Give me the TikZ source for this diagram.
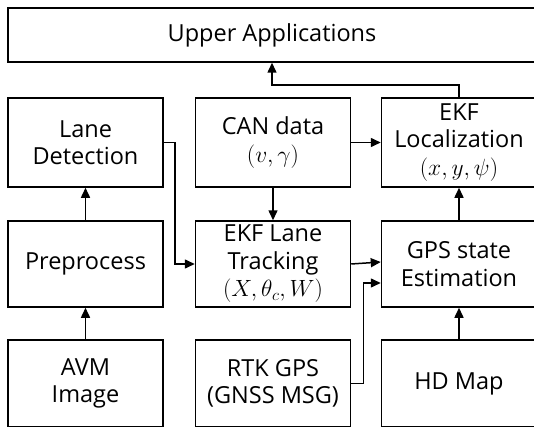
\documentclass[tikz,border=0pt]{standalone}
\usepackage{fix-cm}
\usepackage{fontspec}
\setmainfont{Open Sans}
\usetikzlibrary{arrows.meta}

\begin{document}
\begin{tikzpicture}[
  x=1pt, y=1pt,
  block/.style={
    draw,
    line width=1.5pt,
    align=center,
    minimum width=155pt,
    inner sep=0pt,
    font=\fontsize{23.5}{27.5}\selectfont
  },
  flow/.style={
    line width=1.5pt,
    -{Triangle[length=10pt,width=9pt]}
  },
]
\useasboundingbox (0,0) rectangle (534,426);
% top
\node[block, minimum width=528pt, minimum height=54pt] (upper) at (272,391) {Upper Applications};
% first row
\node[block, minimum height=89pt] (lanedet) at (85.5,283.5) {Lane\\Detection};
\node[block, minimum height=89pt] (can) at (273,283.5) {CAN data\\$(v,\gamma)$};
\node[block, minimum height=89pt] (ekfloc) at (459,283.5) {EKF\\Localization\\$(x,y,\psi)$};
% second row
\node[block, minimum height=86pt] (prep) at (85.5,162) {Preprocess};
\node[block, minimum height=86pt] (track) at (273,162) {EKF Lane\\Tracking\\$(X,\theta_c,W)$};
\node[block, minimum height=86pt] (gpsest) at (459,162) {GPS state\\Estimation};
% third row
\node[block, minimum height=87pt] (avm) at (85.5,42.5) {AVM\\Image};
\node[block, minimum height=87pt] (rtk) at (273,42.5) {RTK GPS\\(GNSS MSG)};
\node[block, minimum height=87pt] (hdmap) at (459,42.5) {HD Map};

\draw[flow] (avm) -- (prep);
\draw[flow] (prep) -- (lanedet);
\draw[flow] (lanedet.east) -- ++(11,0) |- (track.west);
\draw[flow] (can) -- (track);
\draw[flow] (can) -- (ekfloc);
\draw[flow] (track.east) -- ([yshift=2pt]gpsest.west);
\draw[flow] (rtk.east) -- ++(12,0) |- ([yshift=-19pt]gpsest.west);
\draw[flow] (hdmap) -- (gpsest);
\draw[flow] (gpsest) -- (ekfloc);
\draw[flow] (ekfloc.north) -- ++(0,12.3) -| (upper.south);
\end{tikzpicture}
\end{document}
